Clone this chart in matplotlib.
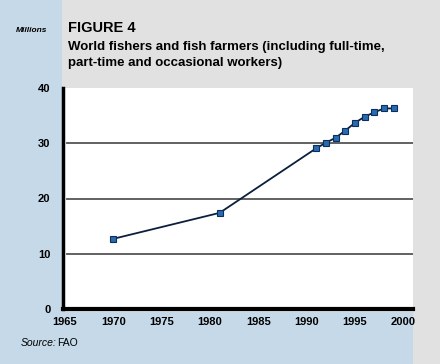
import matplotlib
matplotlib.use('Agg')
import matplotlib.pyplot as plt
from matplotlib.patches import Rectangle

years = [1970, 1981, 1991, 1992, 1993, 1994, 1995, 1996, 1997, 1998, 1999]
workers = [12.7, 17.4, 29.1, 30.1, 31.0, 32.3, 33.7, 34.8, 35.6, 36.3, 36.3]
x_ticks = [1965, 1970, 1975, 1980, 1985, 1990, 1995, 2000]
y_ticks = [0, 10, 20, 30, 40]

gray = '#e1e1e1'
blue_bg = '#c5d9e8'

fig = plt.figure(figsize=(4.4, 3.64), dpi=100)
fig.patch.set_facecolor(gray)

# background panels (behind the axes)
fig.patches.append(Rectangle((0, 0), 62/440, 1, transform=fig.transFigure,
                             facecolor=blue_bg, edgecolor='none', zorder=-5))
fig.patches.append(Rectangle((0, 0), 413/440, 52/364, transform=fig.transFigure,
                             facecolor=blue_bg, edgecolor='none', zorder=-5))

ax = fig.add_axes([63/440, 55/364, 350/440, 221/364])
ax.set_facecolor('white')

for y in y_ticks[1:-1]:
    ax.axhline(y, color='#555555', linewidth=1.3, xmin=0.012, zorder=1)

ax.plot(years, workers, color='#0b1f3d', linewidth=1.3, marker='s',
        markersize=5, markerfacecolor='#2a6bb0', markeredgecolor='#0b2e5c',
        markeredgewidth=0.8, zorder=3)

ax.set_xlim(1964.8, 2001.0)
ax.set_ylim(0, 40)
ax.set_xticks(x_ticks)
ax.set_yticks(y_ticks)
ax.tick_params(length=0, labelsize=8, pad=9)
ax.tick_params(axis='x', pad=6)
for lab in ax.get_xticklabels() + ax.get_yticklabels():
    lab.set_fontweight('bold')
    lab.set_fontfamily('Liberation Sans')

for side in ['top', 'right']:
    ax.spines[side].set_visible(False)
ax.spines['left'].set_linewidth(2.5)
ax.spines['bottom'].set_linewidth(3)
ax.spines['left'].set_zorder(4)
ax.spines['bottom'].set_zorder(4)

fig.text(32/440, 1 - 30/364, 'Millions', fontsize=6, fontweight='bold',
         fontstyle='italic', ha='center', va='center', family='Liberation Sans')
fig.text(68/440, 1 - 28/364, 'FIGURE 4', fontsize=10.5, fontweight='bold',
         ha='left', va='center', family='Liberation Sans')
fig.text(68/440, 1 - 47/364, 'World fishers and fish farmers (including full-time,',
         fontsize=9.5, fontweight='bold', ha='left', va='center', family='Liberation Sans')
fig.text(68/440, 1 - 63/364, 'part-time and occasional workers)',
         fontsize=9.5, fontweight='bold', ha='left', va='center', family='Liberation Sans')

fig.text(21/440, 1 - 343/364, 'Source:', fontsize=7.5, fontstyle='italic',
         ha='left', va='center', family='Liberation Sans')
fig.text(57/440, 1 - 343/364, 'FAO', fontsize=7.5, ha='left', va='center',
         family='Liberation Sans')

fig.savefig('out.png', dpi=100, facecolor=fig.get_facecolor())
